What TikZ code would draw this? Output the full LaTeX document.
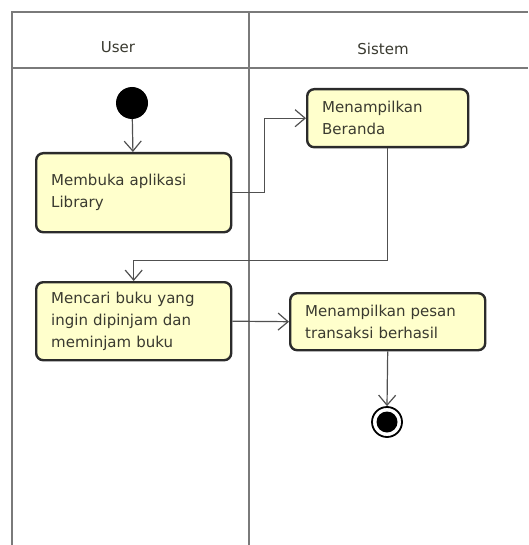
\documentclass[tikz,border=0pt]{standalone}
\usepackage{fontspec}
\setmainfont{DejaVu Sans}
\usetikzlibrary{arrows.meta}
\definecolor{boxfill}{HTML}{FFFFCC}
\definecolor{boxline}{HTML}{2B2B2B}
\definecolor{txt}{HTML}{3A3A30}
\definecolor{frame}{HTML}{7A7A7A}
\definecolor{conn}{HTML}{505050}
\begin{document}
\begin{tikzpicture}[x=1pt,y=-1pt,
  act/.style={draw=boxline, fill=boxfill, line width=2.4pt, rounded corners=7pt,
    inner xsep=15pt, inner ysep=0pt, align=left, anchor=north west, text=txt,
    font=\fontsize{15}{22}\selectfont},
  lane/.style={draw=frame, line width=1.4pt},
  flow/.style={draw=conn, line width=1.2pt, -{Straight Barb[length=10pt,width=17pt,line width=1.2pt]}},
  hdr/.style={text=txt, font=\fontsize{15}{18}\selectfont, inner sep=0pt}
  ]
\useasboundingbox (0,0) rectangle (528,545);
% swimlane frame
\draw[lane] (12,545) -- (12,12) -- (528,12);
\draw[lane] (12,68) -- (528,68);
\draw[lane] (249,12) -- (249,545);
\node[hdr] (huser) at (118,47) {User};
\node[hdr] (hsis) at (383,49) {Sistem};
% nodes
\node[circle, fill=black, minimum size=32pt, inner sep=0pt] (start) at (132,103) {};
\node[act, minimum width=195pt, minimum height=79pt, text width=165pt] (b1) at (35,152) {Membuka aplikasi\\Library};
\node[act, minimum width=161pt, minimum height=58pt, text width=131pt] (b2) at (306,88) {Menampilkan\\Beranda};
\node[act, minimum width=195pt, minimum height=78pt, text width=165pt] (b3) at (35,281) {Mencari buku yang\\ingin dipinjam dan\\meminjam buku};
\node[act, minimum width=195pt, minimum height=57pt, text width=165pt] (b4) at (289,292) {Menampilkan pesan\\transaksi berhasil};
\node[circle, draw=black, line width=1.8pt, minimum size=30pt, inner sep=0pt] (end) at (387,422) {};
\fill[black] (end.center) circle (10.5);
% connectors
\draw[flow] (start) -- (b1);
\draw[flow] (b1.east) -- ++(32,0) |- (b2.west);
\draw[flow] (b2.south) -- ++(0,112) -| (b3.north);
\draw[flow] (b3.east) -- (b4.west);
\draw[flow] (b4.south) -- (end.north);
\end{tikzpicture}
\end{document}
